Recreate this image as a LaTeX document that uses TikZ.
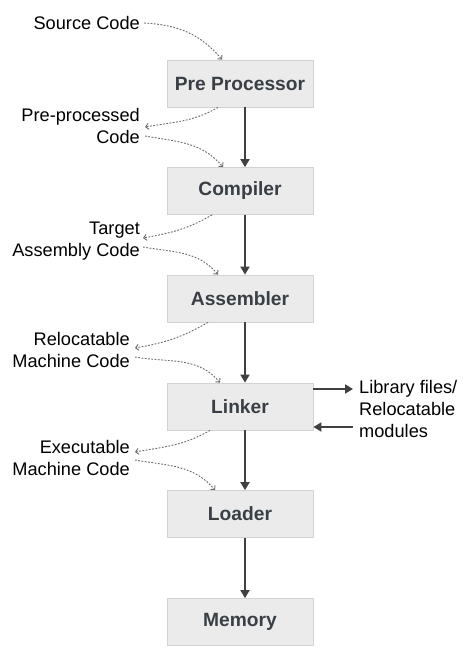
\documentclass[tikz,border=0pt]{standalone}
\usepackage{fontspec}
\setmainfont{Liberation Sans}
\usetikzlibrary{arrows.meta}
\definecolor{boxfill}{HTML}{EBEBEB}
\definecolor{boxline}{HTML}{D2D2D2}
\definecolor{boxtext}{HTML}{3A3F45}
\definecolor{arrcol}{HTML}{404040}
\definecolor{dotcol}{HTML}{6A6A6A}
\begin{document}
\begin{tikzpicture}[x=1pt,y=-1pt,
  stagebox/.style={draw=boxline,fill=boxfill,line width=0.8pt,minimum width=146pt,minimum height=47pt,inner sep=0pt,
    font=\fontsize{19.2}{22}\selectfont\bfseries,text=boxtext},
  lbl/.style={inner sep=0pt,font=\fontsize{18.2}{22}\selectfont,text=black},
  flow/.style={draw=arrcol,line width=1.8pt,-{Triangle[length=8pt,width=9pt]}},
  side/.style={draw=arrcol,line width=1.8pt,-{Triangle[length=8pt,width=9pt]}},
  dotarr/.style={draw=dotcol,line width=0.9pt,dash pattern=on 1.8pt off 1.5pt,-{Straight Barb[length=3pt,width=6pt]}}
]
\useasboundingbox (0,0) rectangle (476,654);
\fill[white] (0,0) rectangle (476,654);

% boxes
\node[stagebox] (pp)   at (240,83.5)  {Pre Processor};
\node[stagebox] (comp) at (240,191)   {Compiler};
\node[stagebox] (asm)  at (240,298.5) {Assembler};
\node[stagebox] (lk)   at (240,406.5) {Linker};
\node[stagebox] (ld)   at (240,514)   {Loader};
\node[stagebox] (mem)  at (240,622)   {Memory};

% labels
\node[lbl,anchor=east] (src) at (140,23) {Source Code};
\node[lbl,anchor=east,align=right] (ppc) at (140,126) {Pre-processed\\Code};
\node[lbl,anchor=east,align=right] (tac) at (140,241) {Target\\Assembly Code};
\node[lbl,anchor=east,align=right] (rmc) at (130,350) {Relocatable\\Machine Code};
\node[lbl,anchor=east,align=right] (emc) at (130,458) {Executable\\Machine Code};
\node[lbl,anchor=west,align=left] (lib) at (359,408.5) {Library files/\\Relocatable\\modules};

% main flow
\draw[flow] ([xshift=5pt]pp.south)   -- ([xshift=5pt]comp.north);
\draw[flow] ([xshift=5pt]comp.south) -- ([xshift=5pt]asm.north);
\draw[flow] ([xshift=5pt]asm.south)  -- ([xshift=5pt]lk.north);
\draw[flow] ([xshift=5pt]lk.south)   -- ([xshift=5pt]ld.north);
\draw[flow] ([xshift=5pt]ld.south)   -- ([xshift=5pt]mem.north);

% linker side arrows
\draw[side] ([yshift=17.5pt]lk.east) -- ([yshift=17.5pt,xshift=-6pt]lk.east -| lib.west);
\draw[side] ([yshift=-20.5pt,xshift=-6pt]lk.east -| lib.west) -- ([yshift=-20.5pt]lk.east);

% dotted arrows
\draw[dotarr] ([xshift=4pt,yshift=0pt]src.east) to[out=-3,in=130] ([xshift=-18pt]pp.north);
\draw[dotarr] ([xshift=-22pt]pp.south) to[out=-150,in=10] ([xshift=5pt,yshift=-1pt]ppc.east);
\draw[dotarr] ([xshift=5pt,yshift=-10pt]ppc.east) to[out=-10,in=130] ([xshift=-17pt]comp.north);
\draw[dotarr] ([xshift=-28pt]comp.south) to[out=-150,in=10] ([xshift=3pt,yshift=3pt]tac.east);
\draw[dotarr] ([xshift=3pt,yshift=-6pt]tac.east) to[out=-10,in=130] ([xshift=-22pt]asm.north);
\draw[dotarr] ([xshift=-32pt]asm.south) to[out=-150,in=10] ([xshift=5pt,yshift=2pt]rmc.east);
\draw[dotarr] ([xshift=5pt,yshift=-7pt]rmc.east) to[out=-10,in=130] ([xshift=-20pt]lk.north);
\draw[dotarr] ([xshift=-30pt]lk.south) to[out=-150,in=10] ([xshift=5pt,yshift=6pt]emc.east);
\draw[dotarr] ([xshift=5pt,yshift=-2pt]emc.east) to[out=-10,in=130] ([xshift=-25pt]ld.north);
\end{tikzpicture}
\end{document}
